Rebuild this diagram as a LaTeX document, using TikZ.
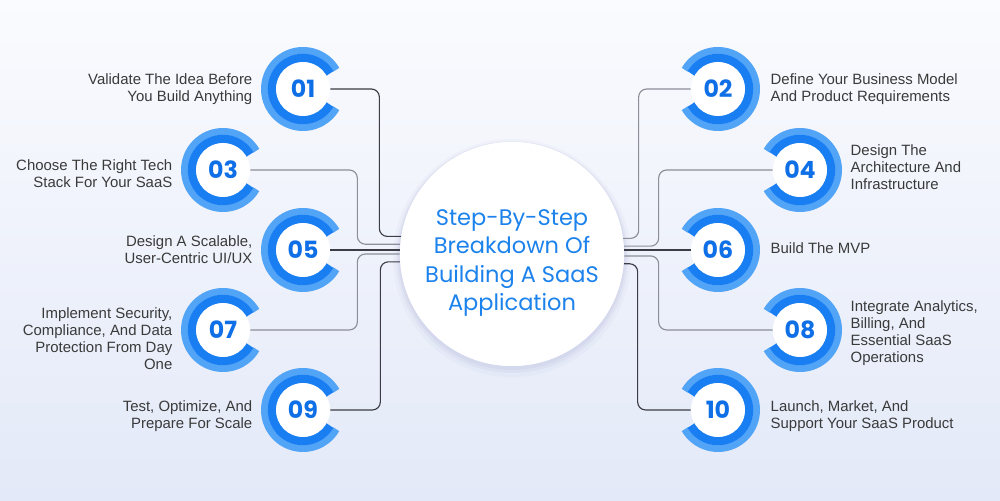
\documentclass[tikz,border=0pt]{standalone}
\usepackage{fontspec}
\usepackage{xcolor}
\usepackage{tikz}
\usetikzlibrary{positioning, calc}
\setmainfont{Liberation Sans}
\newfontfamily\titlefont{Poppins}

\definecolor{bgTop}{HTML}{FAFBFE}
\definecolor{bgBot}{HTML}{E3E9F8}
\definecolor{ringLight}{HTML}{52A4F7}
\definecolor{ringDark}{HTML}{1A7EF3}
\definecolor{numBlue}{HTML}{0F6FE6}
\definecolor{titleBlue}{HTML}{1C82EC}
\definecolor{txtGray}{HTML}{3A3A3A}
\definecolor{lineDark}{HTML}{3C3C44}
\definecolor{lineGray}{HTML}{8C8F98}

\begin{document}
\begin{tikzpicture}[
		x=0.02cm, y=0.02cm,
		badge/.style={circle, fill=white, inner sep=0pt, minimum size=1.08cm, font=\titlefont\bfseries\fontsize{13.5}{14}\selectfont, text=numBlue},
		lbl/.style={inner sep=0pt, font=\fontsize{8.5}{9.7}\selectfont, text=txtGray},
		conn/.style={line width=0.65pt, rounded corners=0.16cm},
		hubnode/.style={circle, fill=white, minimum size=4.48cm, inner sep=0pt}
		]
		% Background
		\shade[top color=bgTop, bottom color=bgBot] (0,0) rectangle (1000,500);
		\useasboundingbox (0,0) rectangle (1000,500);
		
		% Hub circle (soft shadow first)
		\fill[blue!30!gray, opacity=0.03] (512,242) circle (119);
		\fill[blue!30!gray, opacity=0.05] (512,243) circle (116);
		\fill[blue!30!gray, opacity=0.06] (512,244) circle (114);
		\node[hubnode] (hub) at (512,246) {};
		
		% Badges -- left column
		\node[badge] (b01) at (303,411) {01};
		\node[badge] (b03) at (223,330) {03};
		\node[badge] (b05) at (303,250) {05};
		\node[badge] (b07) at (223,170) {07};
		\node[badge] (b09) at (303,90) {09};
		% Badges -- right column
		\node[badge] (b02) at (718,411) {02};
		\node[badge] (b04) at (800,330) {04};
		\node[badge] (b06) at (718,250) {06};
		\node[badge] (b08) at (800,170) {08};
		\node[badge] (b10) at (718,90) {10};
		
		% Connectors (behind hub and badges)
		\draw[conn, lineDark] (b01.east) -- ++(49,0) |- (hub.171.8);
		\draw[conn, lineGray] (b03.east) -- ++(107,0) |- (hub.175.4);
		\draw[conn, lineDark] (b05.east) -- (b05 -| hub.west);
		\draw[conn, lineGray] (b07.east) -- ++(107,0) |- (hub.180.5);
		\draw[conn, lineDark] (b09.east) -- ++(50,0) |- (hub.184.1);
		\draw[conn, lineGray] (b02.west) -- ++(-52,0) |- (hub.8.2);
		\draw[conn, lineGray] (b04.west) -- ++(-114,0) |- (hub.4.6);
		\draw[conn, lineDark] (b06.west) -- (b06 -| hub.east);
		\draw[conn, lineGray] (b08.west) -- ++(-114,0) |- (hub.359.5);
		\draw[conn, lineDark] (b10.west) -- ++(-53,0) |- (hub.355.9);
		
		% Redraw hub on top of the connector ends
		\node[hubnode] at (hub) {};
		\node[text=titleBlue, align=center, font=\titlefont\fontsize{12.8}{16.3}\selectfont] (title) at (512,237)
		{Step-By-Step\\Breakdown Of\\Building A SaaS\\Application};
		
		% Open rings round each badge, gap facing its connector
		\foreach \b/\g in {b01/0, b03/0, b05/0, b07/0, b09/0, b02/180, b04/180, b06/180, b08/180, b10/180} {
			\draw[ringLight, line width=7*0.02cm] (\b.center) ++(\g+30:38.5) arc[start angle=\g+30, end angle=\g+330, radius=38.5];
			\draw[ringDark, line width=8.5*0.02cm] (\b.center) ++(\g+30:31) arc[start angle=\g+30, end angle=\g+330, radius=31];
			\node[badge] at (\b) {};
		}
		% numbers again above the discs
		\foreach \b/\n in {b01/01, b03/03, b05/05, b07/07, b09/09, b02/02, b04/04, b06/06, b08/08, b10/10}
			\node[badge, fill=none] at (\b) {\n};
		
		% Labels -- left
		\node[lbl, align=right, left=0.46cm of b01] (t01) {Validate The Idea Before\\You Build Anything};
		\node[lbl, align=right, left=0.46cm of b03, yshift=-4*0.02cm] (t03) {Choose The Right Tech\\Stack For Your SaaS};
		\node[lbl, align=right, left=0.46cm of b05] (t05) {Design A Scalable,\\User-Centric UI/UX};
		\node[lbl, align=right, left=0.46cm of b07, yshift=-9*0.02cm] (t07) {Implement Security,\\Compliance, And Data\\Protection From Day\\One};
		\node[lbl, align=right, left=0.46cm of b09, yshift=-6*0.02cm] (t09) {Test, Optimize, And\\Prepare For Scale};
		% Labels -- right
		\node[lbl, align=left, right=0.5cm of b02] (t02) {Define Your Business Model\\And Product Requirements};
		\node[lbl, align=left, right=0.46cm of b04, yshift=3*0.02cm] (t04) {Design The\\Architecture And\\Infrastructure};
		\node[lbl, align=left, right=0.5cm of b06, yshift=2*0.02cm] (t06) {Build The MVP};
		\node[lbl, align=left, right=0.46cm of b08, yshift=-3*0.02cm] (t08) {Integrate Analytics,\\Billing, And\\Essential SaaS\\Operations};
		\node[lbl, align=left, right=0.5cm of b10, yshift=-6*0.02cm] (t10) {Launch, Market, And\\Support Your SaaS Product};
	\end{tikzpicture}
\end{document}
